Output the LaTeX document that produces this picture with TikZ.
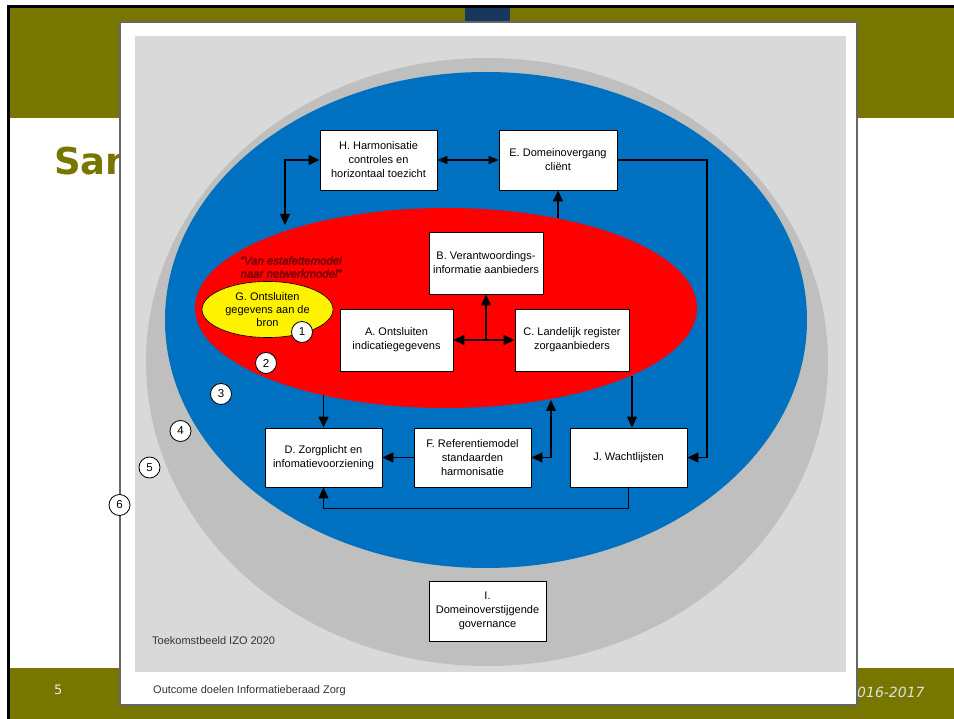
\documentclass[tikz,border=0pt]{standalone}
\usepackage{fontspec}
\setmainfont{Liberation Sans}
\newfontfamily\verd{DejaVu Sans}
\newfontfamily\qfont[ItalicFeatures={FakeBold=3}]{Liberation Sans}
\usetikzlibrary{arrows.meta,shapes.geometric}
\definecolor{olive}{HTML}{777700}
\definecolor{navy}{HTML}{17375E}
\definecolor{lgrey}{HTML}{D9D9D9}
\definecolor{mgrey}{HTML}{BFBFBF}
\definecolor{iblue}{HTML}{0070C0}
\definecolor{dred}{HTML}{7A0000}
\begin{document}
\begin{tikzpicture}[x=1pt,y=-1pt,
  box/.style={draw=black,fill=white,line width=0.9pt,inner sep=0pt,align=center,
    font=\fontsize{11}{14}\selectfont},
  num/.style={circle,draw=black,fill=white,line width=0.8pt,minimum size=21pt,inner sep=0pt,
    font=\fontsize{11.5}{12}\selectfont},
  conn/.style={draw=black,line width=1.4pt},
  arr/.style={conn,-{Triangle[length=11pt,width=10pt]}},
  dbl/.style={conn,{Triangle[length=11pt,width=10pt]}-{Triangle[length=11pt,width=10pt]}},
  small/.style={font=\fontsize{11}{12}\selectfont,text=black!80}
]
\useasboundingbox (0,0) rectangle (954,719);
% slide background
\fill[white] (0,0) rectangle (954,719);
\fill[olive] (10,8) rectangle (954,118);
\fill[olive] (10,668) rectangle (954,719);
\fill[black] (7,5) rectangle (954,8);
\fill[black] (7,5) rectangle (10,719);
\fill[navy] (465,8) rectangle (510,22);
\node[anchor=base west,text=olive,font=\verd\bfseries\fontsize{37}{40}\selectfont,inner sep=0pt] (title) at (54,175) {San};
\node[anchor=base west,text=white!92!black,font=\verd\fontsize{13}{15}\selectfont,inner sep=0pt] (pnum) at (54,694) {5};
\node[anchor=base west,text=white!88!black,font=\verd\itshape\fontsize{14}{16}\selectfont,inner sep=0pt] (year) at (857,697) {016-2017};
% frame
\draw[fill=white,draw=black!60,line width=1.3pt] (120,22) rectangle (857,705);
\fill[lgrey] (134.5,36.5) rectangle (845.5,672);
% ellipses
\fill[mgrey] (487,362) ellipse [x radius=341, y radius=304];
\fill[iblue] (486,320) ellipse [x radius=321, y radius=248];
\fill[red] (446,308) ellipse [x radius=251, y radius=100];
\node[ellipse,fill=yellow,draw=black,line width=0.6pt,minimum width=131pt,minimum height=56pt,inner sep=0pt,align=center,
  font=\fontsize{11}{13}\selectfont] (G) at (267.5,309.5) {G. Ontsluiten\\gegevens aan de\\bron};
\node[align=center,text=dred,font=\qfont\itshape\fontsize{11.4}{13}\selectfont] (quote) at (291,267) {“Van estafettemodel\\naar netwerkmodel”};
% boxes
\node[box,minimum width=117pt,minimum height=60pt] (H) at (378.5,160) {H. Harmonisatie\\controles en\\horizontaal toezicht};
\node[box,minimum width=118pt,minimum height=60pt] (E) at (558,160) {E. Domeinovergang\\cliënt};
\node[box,minimum width=114pt,minimum height=62pt] (B) at (486,263) {B. Verantwoordings-\\informatie aanbieders};
\node[box,minimum width=113pt,minimum height=62pt] (A) at (396.5,340) {A. Ontsluiten\\indicatiegegevens};
\node[box,minimum width=114pt,minimum height=62pt] (C) at (572,340) {C. Landelijk register\\zorgaanbieders};
\node[box,minimum width=117pt,minimum height=59pt] (D) at (323.5,457.5) {D. Zorgplicht en\\infomatievoorziening};
\node[box,minimum width=117pt,minimum height=59pt] (F) at (472.5,457.5) {F. Referentiemodel\\standaarden\\harmonisatie};
\node[box,minimum width=117pt,minimum height=59pt] (J) at (628.5,457.5) {J. Wachtlijsten};
\node[box,minimum width=117pt,minimum height=60pt] (I) at (487.5,611) {I.\\Domeinoverstijgende\\governance};
% helper coordinates
\coordinate (hr) at (285,225);
\coordinate (re) at (558,218);
\coordinate (ej) at (707,160);
\coordinate (jn) at (486,340);
\coordinate (rd) at (323.5,395);
\coordinate (rf) at (551,400);
\coordinate (rc) at (632,376);
% connectors
\draw[dbl] (H.west) -| (hr);
\draw[conn,{Triangle[length=10pt,width=8pt]}-{Triangle[length=10pt,width=8pt]}] (H.east) -- (E.west);
\draw[arr] (re) -- (E.south);
\draw[conn,line width=1.2pt,-{Triangle[length=11pt,width=10pt]}] (E.east) -- (ej) |- (J.east);
\draw[dbl] (A.east) -- (C.west);
\draw[arr] (jn) -- (B.south);
\draw[arr] (rd) -- (D.north);
\draw[dbl] (F.east) -| (rf);
\draw[arr] (rc) -- (rc |- J.north);
\draw[arr] (J.south) -- ++(0,21) -| (D.south);
\draw[arr] (F.west) -- (D.east);
% numbers
\node[num] (n1) at (302,332) {1};
\node[num] (n2) at (266,363) {2};
\node[num] (n3) at (221,394) {3};
\node[num] (n4) at (180.5,431) {4};
\node[num] (n5) at (149.5,467.5) {5};
\node[num] (n6) at (119.5,505) {6};
% captions
\node[small,anchor=base west,inner sep=0pt] (cap1) at (152,644) {Toekomstbeeld IZO 2020};
\node[small,anchor=base west,inner sep=0pt] (cap2) at (153,693) {Outcome doelen Informatieberaad Zorg};
\end{tikzpicture}
\end{document}
